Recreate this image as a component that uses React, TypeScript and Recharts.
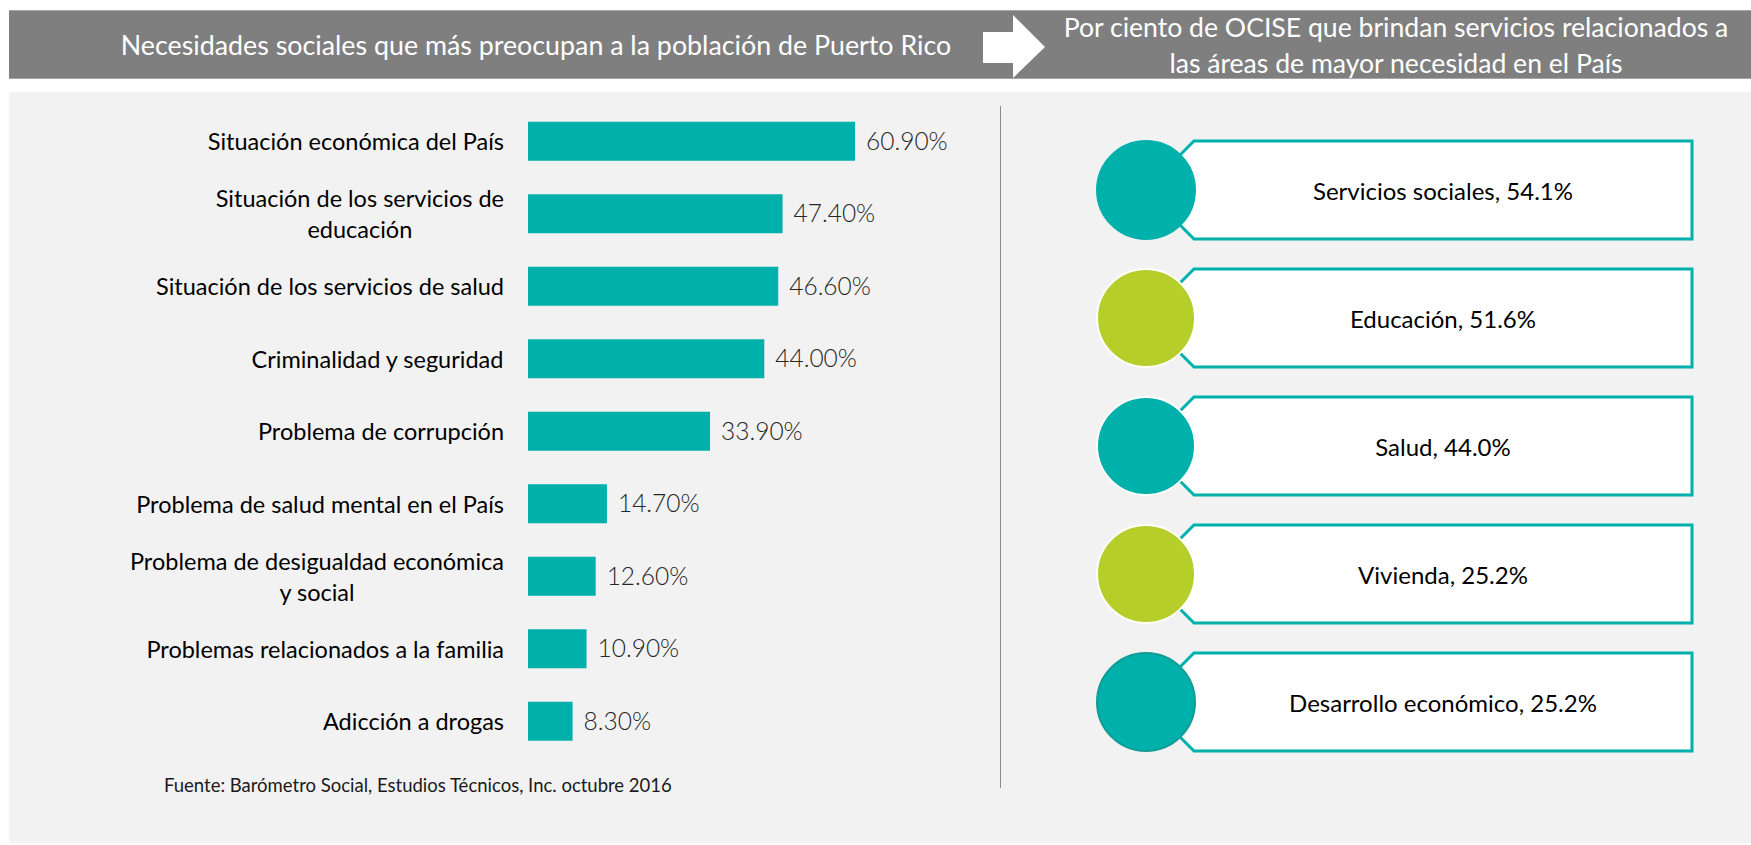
import React from "react";
import { BarChart, Bar, XAxis, YAxis, LabelList } from "recharts";

// left panel: social needs
const needs = [
  "Situación económica del País",
  "Situación de los servicios de\neducación",
  "Situación de los servicios de salud",
  "Criminalidad y seguridad",
  "Problema de corrupción",
  "Problema de salud mental en el País",
  "Problema de desigualdad económica\ny social",
  "Problemas relacionados a la familia",
  "Adicción a drogas",
];
const needShares = [60.9, 47.4, 46.6, 44.0, 33.9, 14.7, 12.6, 10.9, 8.3];

// right panel: OCISE service areas
const areas = ["Servicios sociales", "Educación", "Salud", "Vivienda", "Desarrollo económico"];
const areaShares = [54.1, 51.6, 44.0, 25.2, 25.2];

const leftTitle = "Necesidades sociales que más preocupan a la población de Puerto Rico";
const rightTitle = [
  "Por ciento de OCISE que brindan servicios relacionados a",
  "las áreas de mayor necesidad en el País",
];
const sourceNote = "Fuente: Barómetro Social, Estudios Técnicos, Inc. octubre 2016";

const FONT = "Lato, 'Open Sans', sans-serif";
const TEAL = "#00B0AA";
const GREEN = "#B5CE2A";
const circleFills = [TEAL, GREEN, TEAL, GREEN, TEAL];
const circleStrokes = [TEAL, "#ffffff", "#ffffff", "#ffffff", "#129C95"];
const LABEL_SIZE = 23.5;

const needData = needs.map((need, i) => ({ need, share: needShares[i] }));
const areaData = areas.map((area, i) => ({ area, share: areaShares[i] }));

let measureCtx: CanvasRenderingContext2D | null = null;
function textWidth(s: string, font: string) {
  if (!measureCtx) measureCtx = document.createElement("canvas").getContext("2d");
  if (!measureCtx) return s.length * 10;
  measureCtx.font = font;
  return measureCtx.measureText(s).width;
}

function NeedTick(props: any) {
  const { x, y, payload } = props;
  const lines = String(payload.value).split("\n");
  const right = x - 16;
  const mid = right - textWidth(lines[0], `${LABEL_SIZE}px ${FONT}`) / 2;
  return (
    <g>
      {lines.map((l, i) => (
        <text
          key={i}
          x={mid}
          y={y + (i - (lines.length - 1) / 2) * 31}
          textAnchor="middle"
          dominantBaseline="central"
          fontFamily={FONT}
          fontSize={LABEL_SIZE}
          fill="#000"
        >
          {l}
        </text>
      ))}
    </g>
  );
}

function AreaShape(props: any) {
  const { y, height, index, payload } = props;
  const bx = props.background?.x ?? props.x;
  const bw = props.background?.width ?? 596;
  const cy = y + height / 2;
  const r = 50;
  const left = bx + 63;
  const right = bx + bw;
  const c = 35;
  const top = y;
  const bottom = y + height;
  const pts = `${left + c},${top} ${right},${top} ${right},${bottom} ${left + c},${bottom} ${left},${bottom - c} ${left},${top + c}`;
  return (
    <g>
      <polygon points={pts} fill="#fff" stroke={TEAL} strokeWidth={3} />
      <circle cx={bx + r} cy={cy} r={r - 1} fill={circleFills[index]} stroke={circleStrokes[index]} strokeWidth={2} />
      <text
        x={(left + c + right) / 2}
        y={cy}
        textAnchor="middle"
        dominantBaseline="central"
        fontFamily={FONT}
        fontSize={24}
        fill="#000"
      >
        {`${payload.area}, ${payload.share.toFixed(1)}%`}
      </text>
    </g>
  );
}

export default function App() {
  return (
    <div style={{ position: "absolute", left: 0, top: 0, width: 1751, height: 845, background: "#fff", overflow: "hidden" }}>
      <svg width={1751} height={845} style={{ position: "absolute", left: 0, top: 0 }}>
        <rect x={9} y={10} width={1742} height={69} fill="#7F7F7F" />
        <line x1={9} x2={1751} y1={10.5} y2={10.5} stroke="#A6A6A6" />
        <line x1={9} x2={1751} y1={78.5} y2={78.5} stroke="#A6A6A6" />
        <text x={536} y={45} textAnchor="middle" dominantBaseline="central" fontFamily={FONT} fontSize={26.8} fill="#fff">
          {leftTitle}
        </text>
        <polygon points="983,32 1013,32 1013,15 1045,47 1013,78 1013,63 983,63" fill="#fff" />
        {rightTitle.map((t, i) => (
          <text key={i} x={1396} y={27 + i * 36} textAnchor="middle" dominantBaseline="central" fontFamily={FONT} fontSize={26.6} fill="#fff">
            {t}
          </text>
        ))}
        <rect x={9} y={92} width={1742} height={751} fill="#F2F2F2" />
        <line x1={1000.5} x2={1000.5} y1={106} y2={788} stroke="#8C8C8C" />
        <text x={164} y={785} dominantBaseline="central" fontFamily={FONT} fontSize={18.5} fill="#1a1a1a">
          {sourceNote}
        </text>
      </svg>

      <div style={{ position: "absolute", left: 0, top: 0 }}>
        <BarChart layout="vertical" width={1000} height={845} data={needData} barSize={39}
          margin={{ top: 104.75, right: 42.4, bottom: 87.75, left: 0 }}>
          <XAxis type="number" domain={[0, 80]} hide />
          <YAxis type="category" dataKey="need" width={528} axisLine={false} tickLine={false} interval={0} tick={<NeedTick />} />
          <Bar dataKey="share" fill={TEAL} isAnimationActive={false}>
            <LabelList
              dataKey="share"
              position="right"
              offset={11}
              formatter={(v: any) => `${Number(v).toFixed(2)}%`}
              fontFamily={FONT}
              fontSize={24.5}
              fontWeight={300}
              fill="#262626"
            />
          </Bar>
        </BarChart>
      </div>

      <div style={{ position: "absolute", left: 1000, top: 0 }}>
        <BarChart layout="vertical" width={751} height={845} data={areaData} barSize={98}
          margin={{ top: 126, right: 59, bottom: 79, left: 96 }}>
          <XAxis type="number" domain={[0, 100]} hide />
          <YAxis type="category" dataKey="area" hide />
          <Bar dataKey="share" isAnimationActive={false} shape={<AreaShape />} />
        </BarChart>
      </div>
    </div>
  );
}
